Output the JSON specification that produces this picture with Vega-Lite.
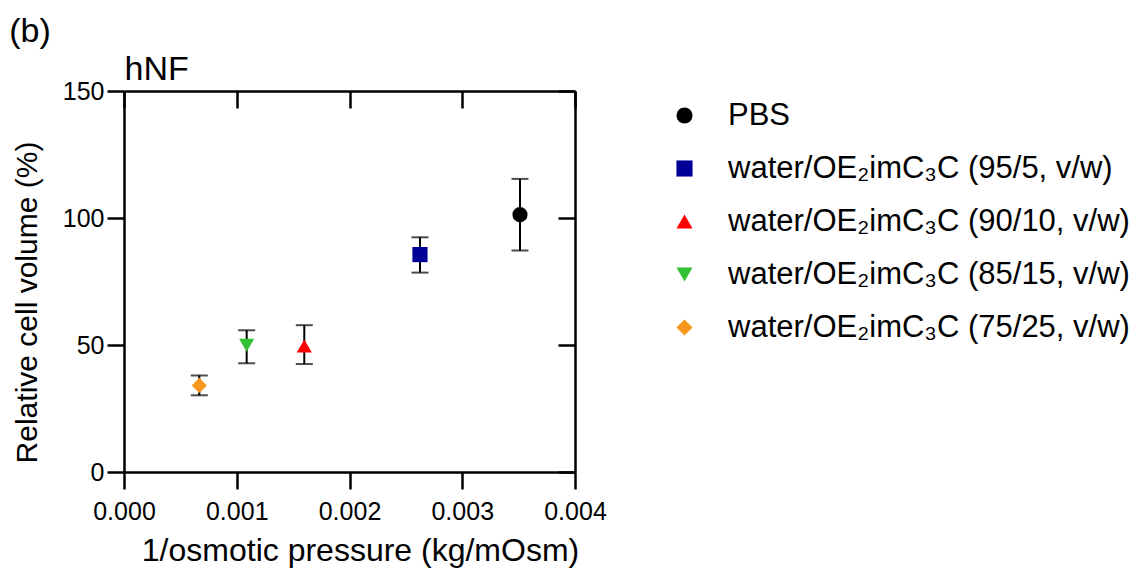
{
  "$schema": "https://vega.github.io/schema/vega-lite/v6.json",
  "width": 451,
  "height": 381,
  "autosize": "none",
  "padding": {"left": 124, "top": 91, "right": 572, "bottom": 99},
  "background": "white",
  "config": {
    "font": "Liberation Sans",
    "view": {"stroke": null},
    "axis": {
      "domainColor": "black",
      "domainWidth": 2.5,
      "tickColor": "black",
      "tickWidth": 2.5,
      "labelColor": "black",
      "titleColor": "black",
      "labelFont": "Liberation Sans",
      "titleFont": "Liberation Sans",
      "titleFontWeight": "normal",
      "grid": false
    },
    "legend": {"labelFont": "Liberation Sans"}
  },
  "title": {
    "text": "(b)",
    "anchor": "start",
    "frame": "bounds",
    "fontSize": 34,
    "fontWeight": "normal",
    "color": "black",
    "offset": 4,
    "dx": -3
  },
  "data": {
    "values": [
      {"group": "PBS", "x": 0.003512, "y": 101.3, "lo": 87.2, "hi": 115.4},
      {"group": "water/OE₂imC₃C (95/5, v/w)", "x": 0.002625, "y": 85.6, "lo": 78.5, "hi": 92.4},
      {"group": "water/OE₂imC₃C (90/10, v/w)", "x": 0.001599, "y": 49.6, "lo": 42.5, "hi": 57.8},
      {"group": "water/OE₂imC₃C (85/15, v/w)", "x": 0.001088, "y": 49.9, "lo": 42.8, "hi": 55.8},
      {"group": "water/OE₂imC₃C (75/25, v/w)", "x": 0.000668, "y": 34.1, "lo": 30.2, "hi": 38.0}
    ]
  },
  "layer": [
    {
      "mark": {"type": "rule", "color": "black", "strokeWidth": 2},
      "encoding": {
        "x": {
          "field": "x", "type": "quantitative",
          "scale": {"domain": [0, 0.004], "nice": false},
          "axis": {
            "orient": "bottom",
            "values": [0, 0.001, 0.002, 0.003, 0.004],
            "format": ".3f",
            "labelFontSize": 25,
            "labelFlush": false,
            "labelOverlap": false,
            "tickSize": 17,
            "labelPadding": 10,
            "title": "1/osmotic pressure (kg/mOsm)",
            "titleFontSize": 32,
            "titlePadding": 11,
            "titleX": 236
          }
        },
        "y": {
          "field": "lo", "type": "quantitative",
          "scale": {"domain": [0, 150], "nice": false},
          "axis": {
            "orient": "left",
            "values": [0, 50, 100, 150],
            "labelFontSize": 25,
            "tickSize": 17,
            "labelPadding": 3,
            "title": "Relative cell volume (%)",
            "titleFontSize": 30,
            "titlePadding": 20,
            "titleY": 211
          }
        },
        "y2": {"field": "hi"}
      }
    },
    {
      "mark": {"type": "tick", "orient": "horizontal", "color": "black", "thickness": 2, "size": 17},
      "encoding": {
        "x": {"field": "x", "type": "quantitative", "axis": null},
        "y": {"field": "lo", "type": "quantitative", "axis": null}
      }
    },
    {
      "mark": {"type": "tick", "orient": "horizontal", "color": "black", "thickness": 2, "size": 17},
      "encoding": {
        "x": {"field": "x", "type": "quantitative", "axis": null},
        "y": {"field": "hi", "type": "quantitative", "axis": null}
      }
    },
    {
      "mark": {"type": "point", "filled": true, "size": 230, "opacity": 1},
      "encoding": {
        "x": {
          "field": "x", "type": "quantitative",
          "axis": {
            "orient": "top",
            "labels": false,
            "values": [0, 0.001, 0.002, 0.003, 0.004],
            "tickSize": -17,
            "title": "hNF",
            "titleFontSize": 34,
            "titleAnchor": "start",
            "titleAlign": "left",
            "titlePadding": 3
          }
        },
        "y": {
          "field": "y", "type": "quantitative",
          "axis": {
            "orient": "right",
            "labels": false,
            "values": [0, 50, 100, 150],
            "tickSize": -17,
            "title": null
          }
        },
        "color": {
          "field": "group", "type": "nominal",
          "scale": {
            "domain": ["PBS", "water/OE₂imC₃C (95/5, v/w)", "water/OE₂imC₃C (90/10, v/w)", "water/OE₂imC₃C (85/15, v/w)", "water/OE₂imC₃C (75/25, v/w)"],
            "range": ["#000000", "#000099", "#ff0000", "#33c233", "#f7961d"]
          },
          "legend": {
            "title": null, "orient": "none", "legendX": 545, "legendY": 9,
            "padding": 0, "labelFontSize": 31, "labelColor": "black", "labelLimit": 0,
            "symbolSize": 260, "symbolStrokeWidth": 0, "labelOffset": 28, "rowPadding": 21
          }
        },
        "shape": {
          "field": "group", "type": "nominal",
          "scale": {
            "domain": ["PBS", "water/OE₂imC₃C (95/5, v/w)", "water/OE₂imC₃C (90/10, v/w)", "water/OE₂imC₃C (85/15, v/w)", "water/OE₂imC₃C (75/25, v/w)"],
            "range": ["circle", "square", "triangle-up", "triangle-down", "diamond"]
          },
          "legend": {
            "title": null, "orient": "none", "legendX": 545, "legendY": 9,
            "padding": 0, "labelFontSize": 31, "labelColor": "black", "labelLimit": 0,
            "symbolSize": 260, "symbolStrokeWidth": 0, "labelOffset": 28, "rowPadding": 21
          }
        }
      }
    }
  ],
  "resolve": {"axis": {"x": "independent", "y": "independent"}}
}
